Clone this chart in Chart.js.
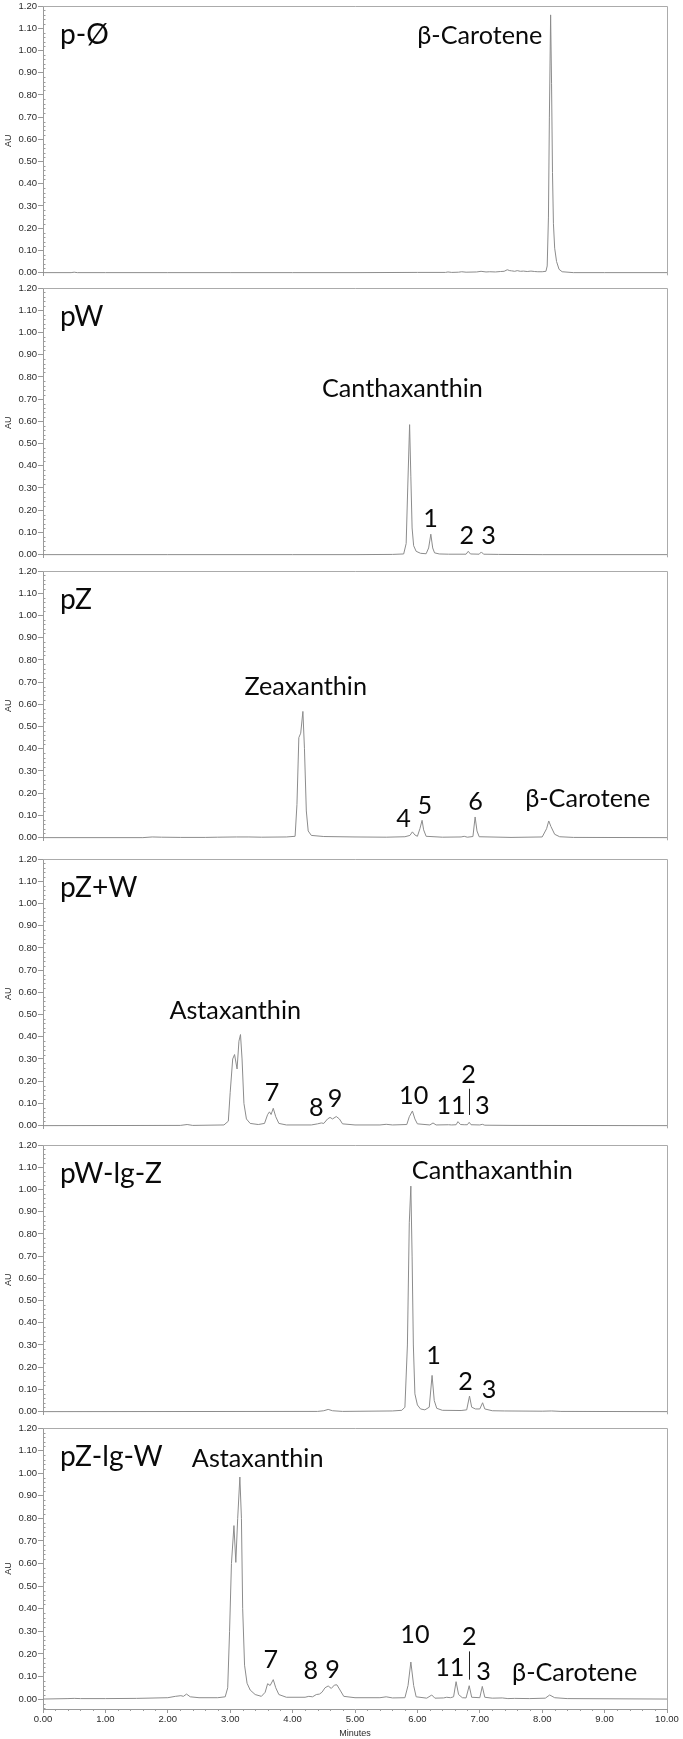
<!DOCTYPE html>
<html><head><meta charset="utf-8">
<script src="https://cdn.jsdelivr.net/npm/chart.js@4.4.0/dist/chart.umd.min.js"></script>
<style>
html,body{margin:0;padding:0;background:#fff;}
#wrap{position:relative;width:683px;height:1739px;overflow:hidden;background:#fff;}
canvas{position:absolute;left:0;}
</style></head><body><div id="wrap"></div>
<script>
// ---------------- DATA ----------------
const panelNames = ['p-Ø', 'pW', 'pZ', 'pZ+W', 'pW-lg-Z', 'pZ-lg-W'];
const yTicks = [0.00, 0.10, 0.20, 0.30, 0.40, 0.50, 0.60, 0.70, 0.80, 0.90, 1.00, 1.10, 1.20];
const xTicks = [0, 1, 2, 3, 4, 5, 6, 7, 8, 9, 10];
const xTitle = 'Minutes';
const yTitle = 'AU';

// traces: [minutes, AU]
const traceP0 = [[0,0],[0.45,0],[0.5,0.002],[0.55,0],[1,0],[2,0],[3,0],[4,0],[5,0],[6,0.001],[6.45,0.001],[6.49,0.003],[6.55,0.001],[6.66,0.002],[6.71,0.004],[6.78,0.002],[6.95,0.003],[7.02,0.006],[7.1,0.003],[7.16,0.004],[7.25,0.003],[7.33,0.005],[7.39,0.006],[7.44,0.013],[7.48,0.009],[7.51,0.008],[7.56,0.006],[7.6,0.009],[7.65,0.006],[7.7,0.007],[7.76,0.005],[7.82,0.007],[7.88,0.005],[7.93,0.004],[8.0,0.004],[8.06,0.006],[8.08,0.03],[8.1,0.25],[8.115,0.7],[8.135,1.16],[8.15,0.85],[8.165,0.45],[8.18,0.22],[8.2,0.11],[8.23,0.05],[8.27,0.015],[8.32,0.004],[8.5,0],[9,0],[10,0]];
const traceP1 = [[0,0],[2,0],[4,0],[5,0],[5.6,0.001],[5.78,0.003],[5.82,0.05],[5.845,0.3],[5.875,0.585],[5.895,0.35],[5.915,0.12],[5.94,0.04],[5.98,0.015],[6.05,0.006],[6.14,0.004],[6.18,0.03],[6.215,0.092],[6.245,0.03],[6.275,0.008],[6.35,0.003],[6.5,0.002],[6.78,0.002],[6.815,0.015],[6.85,0.003],[6.99,0.002],[7.025,0.012],[7.06,0.002],[7.3,0.001],[8,0],[10,0]];
const traceP2 = [[0,0],[1.6,0],[1.75,0.003],[1.9,0.002],[2.2,0.001],[2.6,0.001],[2.8,0.002],[3.1,0.003],[3.3,0.003],[3.5,0.002],[3.9,0.003],[4.04,0.006],[4.07,0.15],[4.1,0.45],[4.13,0.47],[4.165,0.568],[4.19,0.4],[4.22,0.12],[4.25,0.03],[4.3,0.01],[4.5,0.005],[5,0.003],[5.5,0.002],[5.8,0.004],[5.88,0.01],[5.92,0.026],[5.96,0.012],[6.0,0.006],[6.04,0.04],[6.075,0.078],[6.1,0.035],[6.14,0.006],[6.4,0.002],[6.7,0.003],[6.75,0.006],[6.8,0.002],[6.89,0.005],[6.925,0.093],[6.955,0.03],[6.99,0.004],[7.5,0.001],[8.0,0.003],[8.07,0.04],[8.105,0.075],[8.14,0.05],[8.2,0.015],[8.28,0.004],[8.5,0.001],[10,0]];
const traceP3 = [[0,0],[2.2,0.001],[2.31,0.005],[2.4,0.001],[2.9,0.003],[2.97,0.02],[3.0,0.15],[3.04,0.3],[3.07,0.32],[3.11,0.255],[3.14,0.38],[3.165,0.41],[3.19,0.3],[3.22,0.1],[3.26,0.03],[3.32,0.01],[3.45,0.005],[3.55,0.01],[3.6,0.05],[3.63,0.062],[3.655,0.05],[3.69,0.078],[3.73,0.04],[3.78,0.01],[3.9,0.003],[4.3,0.003],[4.4,0.008],[4.46,0.012],[4.5,0.01],[4.56,0.03],[4.6,0.037],[4.64,0.03],[4.7,0.041],[4.75,0.03],[4.8,0.008],[5.0,0.003],[5.4,0.003],[5.5,0.006],[5.6,0.003],[5.83,0.005],[5.87,0.04],[5.92,0.066],[5.96,0.03],[6.0,0.008],[6.2,0.003],[6.25,0.012],[6.3,0.003],[6.5,0.004],[6.55,0.003],[6.62,0.004],[6.65,0.018],[6.69,0.005],[6.75,0.004],[6.8,0.004],[6.83,0.015],[6.86,0.004],[7.0,0.003],[7.04,0.006],[7.08,0.002],[7.5,0.001],[10,0]];
const traceP4 = [[0,0],[4.4,0.001],[4.5,0.004],[4.57,0.01],[4.64,0.004],[4.8,0.001],[5.6,0.003],[5.75,0.006],[5.8,0.02],[5.84,0.3],[5.87,0.85],[5.895,1.015],[5.915,0.7],[5.935,0.3],[5.96,0.08],[6.0,0.03],[6.05,0.012],[6.12,0.008],[6.19,0.02],[6.235,0.163],[6.27,0.05],[6.31,0.015],[6.4,0.006],[6.7,0.005],[6.79,0.008],[6.835,0.07],[6.87,0.02],[6.93,0.012],[7.0,0.012],[7.045,0.04],[7.08,0.012],[7.2,0.004],[7.4,0.003],[8.0,0.002],[8.15,0.003],[8.3,0.001],[10,0]];
const traceP5 = [[0,0],[0.4,0.002],[0.5,0.003],[0.6,0.002],[1.0,0.002],[1.5,0.003],[2.0,0.006],[2.12,0.012],[2.21,0.015],[2.25,0.012],[2.3,0.022],[2.36,0.01],[2.5,0.006],[2.8,0.006],[2.92,0.01],[2.96,0.05],[2.99,0.3],[3.02,0.6],[3.06,0.768],[3.09,0.605],[3.12,0.8],[3.155,0.983],[3.18,0.8],[3.2,0.4],[3.23,0.15],[3.27,0.07],[3.32,0.04],[3.4,0.02],[3.5,0.012],[3.56,0.03],[3.6,0.068],[3.64,0.06],[3.69,0.086],[3.73,0.05],[3.78,0.02],[3.9,0.008],[4.2,0.008],[4.26,0.012],[4.32,0.01],[4.38,0.02],[4.43,0.022],[4.47,0.03],[4.52,0.05],[4.57,0.058],[4.62,0.047],[4.67,0.062],[4.71,0.063],[4.76,0.04],[4.82,0.012],[5.0,0.006],[5.4,0.006],[5.5,0.01],[5.6,0.005],[5.8,0.006],[5.85,0.06],[5.895,0.164],[5.94,0.06],[5.98,0.01],[6.15,0.004],[6.23,0.018],[6.28,0.004],[6.42,0.005],[6.47,0.008],[6.53,0.006],[6.58,0.01],[6.62,0.077],[6.66,0.02],[6.72,0.006],[6.78,0.005],[6.83,0.059],[6.87,0.008],[7.0,0.006],[7.04,0.056],[7.08,0.008],[7.2,0.004],[7.36,0.005],[7.45,0.002],[7.56,0.003],[7.8,0.002],[8.05,0.004],[8.12,0.018],[8.2,0.006],[8.4,0.002],[10,0]];
const traces = [traceP0, traceP1, traceP2, traceP3, traceP4, traceP5];

// peak labels: [text, minutes (centre), AU (baseline)]
const labelsP0 = [['β-Carotene', 7.0, 1.027]];
const labelsP1 = [['Canthaxanthin', 5.76, 0.709], ['1', 6.21, 0.124], ['2', 6.79, 0.047], ['3', 7.14, 0.047]];
const labelsP2 = [['Zeaxanthin', 4.21, 0.644], ['4', 5.78, 0.049], ['5', 6.12, 0.108], ['6', 6.93, 0.125], ['β-Carotene', 8.73, 0.137]];
const labelsP3 = [['Astaxanthin', 3.08, 0.478], ['7', 3.67, 0.110], ['8', 4.38, 0.044], ['9', 4.68, 0.084], ['10', 5.94, 0.099], ['11', 6.54, 0.052], ['2', 6.82, 0.191], ['3', 7.04, 0.052]];
const labelsP4 = [['Canthaxanthin', 7.2, 1.049], ['1', 6.26, 0.215], ['2', 6.77, 0.096], ['3', 7.15, 0.062]];
const labelsP5 = [['Astaxanthin', 3.44, 1.027], ['7', 3.65, 0.137], ['8', 4.29, 0.089], ['9', 4.64, 0.092], ['10', 5.96, 0.248], ['11', 6.52, 0.100], ['2', 6.83, 0.240], ['3', 7.06, 0.085], ['β-Carotene', 8.52, 0.081]];
const peakLabels = [labelsP0, labelsP1, labelsP2, labelsP3, labelsP4, labelsP5];

// vertical separator strokes: [minutes, AU from, AU to]
const dividersP3 = [[6.83, 0.048, 0.166]];
const dividersP5 = [[6.83, 0.086, 0.211]];
const dividers = [[], [], [], dividersP3, [], dividersP5];

// ---------------- LAYOUT / STYLE ----------------
const PANEL_TOP = [6, 288, 571, 859, 1145, 1428]; // pixel of 1.20 line
const PAD_TOP = 8;
const AXIS_W = 43;
const RIGHT_PAD = 16;
const LINE_COLOR = '#8c8c8c';
const FRAME_COLOR = '#ababab';
const TEXT_COLOR = '#0a0a0a';
const TICK_COLOR = '#2a2a2a';
const LABEL_FAMILY = 'Lato, "Open Sans", sans-serif';
const TICK_FAMILY = '"Liberation Sans", Arial, sans-serif';

function fitSize(text, target, family) {
  const c = document.createElement('canvas').getContext('2d');
  c.font = '40px ' + family;
  return 40 * target / c.measureText(text).width;
}
const LABEL_PX = fitSize('Canthaxanthin', 161, LABEL_FAMILY);
const TITLE_PX = fitSize('pW-lg-Z', 102, LABEL_FAMILY);

const decor = {
  id: 'decor',
  afterDraw(chart, args, opts) {
    const i = opts.panel;
    const {ctx, chartArea: a, scales} = chart;
    const xs = scales.x, ys = scales.y;
    ctx.save();
    // frame top & right
    ctx.strokeStyle = FRAME_COLOR; ctx.lineWidth = 1;
    ctx.beginPath();
    ctx.moveTo(a.left, Math.round(a.top) + 0.5);
    ctx.lineTo(a.right + 0.5, Math.round(a.top) + 0.5);
    ctx.lineTo(a.right + 0.5, a.bottom);
    ctx.stroke();
    // minor y ticks every 0.02
    ctx.strokeStyle = '#9c9c9c';
    ctx.beginPath();
    for (let k = Math.ceil(ys.min / 0.02); k * 0.02 <= 1.2001; k++) {
      if (k % 5 === 0) continue;
      const py = Math.round(ys.getPixelForValue(k * 0.02)) + 0.5;
      ctx.moveTo(a.left, py); ctx.lineTo(a.left + 2.5, py);
    }
    ctx.stroke();
    if (i === 5) {
      ctx.beginPath();
      for (let k = 0; k <= 50; k++) {
        if (k % 5 === 0) continue;
        const px = Math.round(xs.getPixelForValue(k * 0.2)) + 0.5;
        ctx.moveTo(px, a.bottom); ctx.lineTo(px, a.bottom + 2);
      }
      ctx.stroke();
    }
    // panel title
    ctx.fillStyle = TEXT_COLOR;
    ctx.textBaseline = 'alphabetic';
    ctx.textAlign = 'left';
    ctx.font = TITLE_PX.toFixed(2) + 'px ' + LABEL_FAMILY;
    ctx.fillText(panelNames[i], a.left + 17, ys.getPixelForValue(1.03));
    // peak labels
    ctx.textAlign = 'center';
    ctx.font = LABEL_PX.toFixed(2) + 'px ' + LABEL_FAMILY;
    for (const [t, m, v] of peakLabels[i]) {
      ctx.fillText(t, xs.getPixelForValue(m), ys.getPixelForValue(v));
    }
    ctx.strokeStyle = '#222'; ctx.lineWidth = 1;
    for (const [m, v0, v1] of dividers[i]) {
      const px = Math.round(xs.getPixelForValue(m)) + 0.5;
      ctx.beginPath();
      ctx.moveTo(px, ys.getPixelForValue(v0));
      ctx.lineTo(px, ys.getPixelForValue(v1));
      ctx.stroke();
    }
    ctx.restore();
  }
};

const wrap = document.getElementById('wrap');
for (let i = 0; i < 6; i++) {
  const last = i === 5;
  const top = PANEL_TOP[i] - PAD_TOP;
  const h = last ? 1739 - top : 284;
  const cv = document.createElement('canvas');
  cv.width = 683; cv.height = h;
  cv.style.width = '683px'; cv.style.height = h + 'px';
  cv.style.top = top + 'px';
  wrap.appendChild(cv);
  new Chart(cv, {
    type: 'line',
    data: { datasets: [{
      data: traces[i].map(p => ({x: p[0], y: p[1]})),
      borderColor: LINE_COLOR, borderWidth: 1, pointRadius: 0, tension: 0, fill: false
    }]},
    options: {
      responsive: false, animation: false, events: [],
      layout: { padding: { top: PAD_TOP, right: RIGHT_PAD, bottom: last ? 0 : 2, left: 0 } },
      plugins: { legend: { display: false }, tooltip: { enabled: false }, decor: { panel: i } },
      scales: {
        x: {
          type: 'linear', min: 0, max: 10, display: last,
          afterBuildTicks: s => { s.ticks = xTicks.map(v => ({value: v})); },
          afterFit: s => { s.height = last ? 30 : 0; },
          ticks: { callback: v => Number(v).toFixed(2), font: { family: TICK_FAMILY, size: 9.5 }, color: TICK_COLOR, padding: 1, maxRotation: 0, autoSkip: false },
          grid: { drawOnChartArea: false, tickLength: 4, color: '#9a9a9a' },
          border: { color: '#9a9a9a' },
          title: { display: true, text: xTitle, font: { family: TICK_FAMILY, size: 9 }, color: TICK_COLOR, padding: { top: 0, bottom: 0 } }
        },
        y: {
          type: 'linear', min: last ? -0.044 : -0.012, max: 1.2,
          afterBuildTicks: s => { s.ticks = yTicks.map(v => ({value: v})); },
          afterFit: s => { s.width = AXIS_W; },
          ticks: { callback: v => Number(v).toFixed(2), font: { family: TICK_FAMILY, size: 9.5 }, color: TICK_COLOR, padding: 1, autoSkip: false },
          grid: { drawOnChartArea: false, tickLength: 5, color: '#9a9a9a' },
          border: { color: '#9a9a9a' },
          title: { display: true, text: yTitle, font: { family: TICK_FAMILY, size: 9 }, color: TICK_COLOR, padding: { top: 3, bottom: 0 } }
        }
      }
    },
    plugins: [decor]
  });
}
</script></body></html>
